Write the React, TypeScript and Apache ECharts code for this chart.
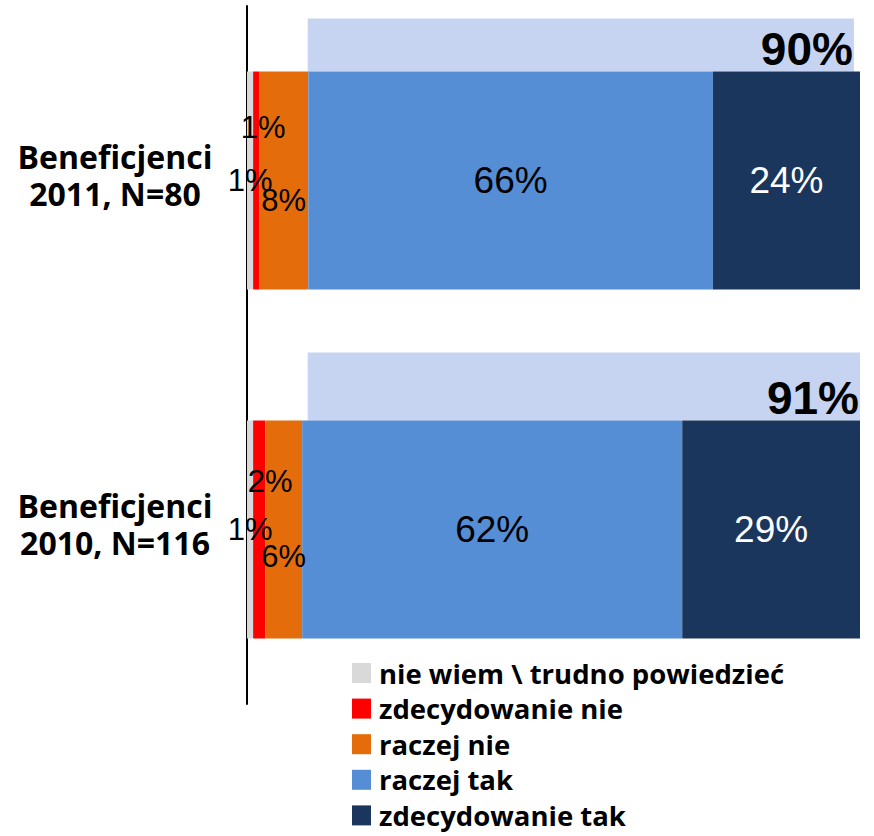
import React, { useEffect, useRef } from 'react';
import * as echarts from 'echarts';

// Survey answers, in percent, per respondent group
const categories = ['Beneficjenci\n2011, N=80', 'Beneficjenci\n2010, N=116'];
const seriesNames = [
  'nie wiem \\ trudno powiedzieć',
  'zdecydowanie nie',
  'raczej nie',
  'raczej tak',
  'zdecydowanie tak',
];
const nieWiem = [1, 1];
const zdecydowanieNie = [1, 2];
const raczejNie = [8, 6];
const raczejTak = [66, 62];
const zdecydowanieTak = [24, 29];
// share of positive answers (raczej tak + zdecydowanie tak)
const positiveTotals = [90, 91];

const COLORS = ['#D9D9D9', '#FF0000', '#E46C0A', '#558ED5', '#1B365D'];
const LIGHT_COLOR = '#C6D4F2';
const MAIN_BAR_WIDTH = 218;
const LIGHT_START = 10;
const LABEL_FONT = '"Liberation Sans", Arial, sans-serif';
const TEXT_FONT = '"Open Sans", sans-serif';

export default function App() {
  const ref = useRef<HTMLDivElement>(null);

  useEffect(() => {
    if (!ref.current) return;
    const chart = echarts.init(ref.current, null, { renderer: 'svg' });

    const redOffsets = [[7, -53], [11, -48]];
    const orangeOffsets = [[0, 20], [0, 27]];
    const lightHeights = [53, 68];

    const seriesValues = [nieWiem, zdecydowanieNie, raczejNie, raczejTak, zdecydowanieTak];

    const barSeries = seriesValues.map((vals, s) => {
      let data: any[] = vals;
      if (s === 1) data = vals.map((v, i) => ({ value: v, label: { offset: redOffsets[i] } }));
      if (s === 2) data = vals.map((v, i) => ({ value: v, label: { offset: orangeOffsets[i] } }));
      const big = s >= 3;
      return {
        type: 'bar',
        name: seriesNames[s],
        stack: 'answers',
        xAxisIndex: 0,
        yAxisIndex: 0,
        barWidth: MAIN_BAR_WIDTH,
        itemStyle: { color: COLORS[s] },
        label: {
          show: true,
          position: 'inside',
          formatter: '{c}%',
          fontFamily: LABEL_FONT,
          fontSize: big ? 37 : 31,
          color: s === 4 ? '#fff' : '#000',
        },
        data,
        z: 3,
      };
    });

    const option: any = {
      animation: false,
      grid: { left: 247, width: 613, top: 6, height: 698 },
      xAxis: [
        { type: 'value', min: 0, max: 100, show: false },
        { type: 'value', min: 0, max: 101, show: false },
      ],
      yAxis: {
        type: 'category',
        data: categories,
        inverse: true,
        offset: 1,
        axisLine: { show: true, lineStyle: { color: '#000', width: 2 } },
        axisTick: { show: false },
        splitLine: { show: false },
        axisLabel: {
          align: 'center',
          margin: 131,
          formatter: (value: string) =>
            value
              .split('\n')
              .map((line) => `{l|${line}}`)
              .join('\n') + '\n{pad| }',
          rich: {
            l: {
              fontFamily: TEXT_FONT,
              fontWeight: 'bold',
              fontSize: 32,
              lineHeight: 37,
              color: '#000',
            },
            pad: { fontSize: 1, lineHeight: 12, height: 12 },
          },
        },
      },
      legend: {
        data: seriesNames,
        orient: 'vertical',
        left: 352,
        top: 659,
        height: 177,
        padding: 0,
        icon: 'rect',
        itemWidth: 19,
        itemHeight: 20,
        itemGap: 7.6,
        selectedMode: false,
        textStyle: {
          fontFamily: TEXT_FONT,
          fontWeight: 'bold',
          fontSize: 27.5,
          color: '#000',
          padding: [0, 0, 0, 3],
        },
      },
      series: [
        ...barSeries,
        {
          type: 'custom',
          name: 'razem tak',
          xAxisIndex: 1,
          yAxisIndex: 0,
          encode: { x: [0, 1], y: 2 },
          data: positiveTotals.map((v, i) => [LIGHT_START, LIGHT_START + v, i, v]),
          renderItem: (params: any, api: any) => {
            const i = api.value(2);
            const start = api.coord([api.value(0), i]);
            const end = api.coord([api.value(1), i]);
            const bottom = start[1] - MAIN_BAR_WIDTH / 2;
            const h = lightHeights[params.dataIndex];
            return {
              type: 'group',
              children: [
                {
                  type: 'rect',
                  shape: { x: start[0], y: bottom - h, width: end[0] - start[0], height: h },
                  style: { fill: LIGHT_COLOR },
                },
                {
                  type: 'text',
                  x: end[0] - 1,
                  y: bottom - 23,
                  style: {
                    text: api.value(3) + '%',
                    font: `bold 46px ${LABEL_FONT}`,
                    fill: '#000',
                    align: 'right',
                    verticalAlign: 'middle',
                  },
                },
              ],
            };
          },
          z: 2,
        },
      ],
    };

    chart.setOption(option);
    return () => chart.dispose();
  }, []);

  return (
    <div
      ref={ref}
      style={{ position: 'fixed', left: 0, top: 0, width: 874, height: 836, background: '#fff' }}
    />
  );
}
